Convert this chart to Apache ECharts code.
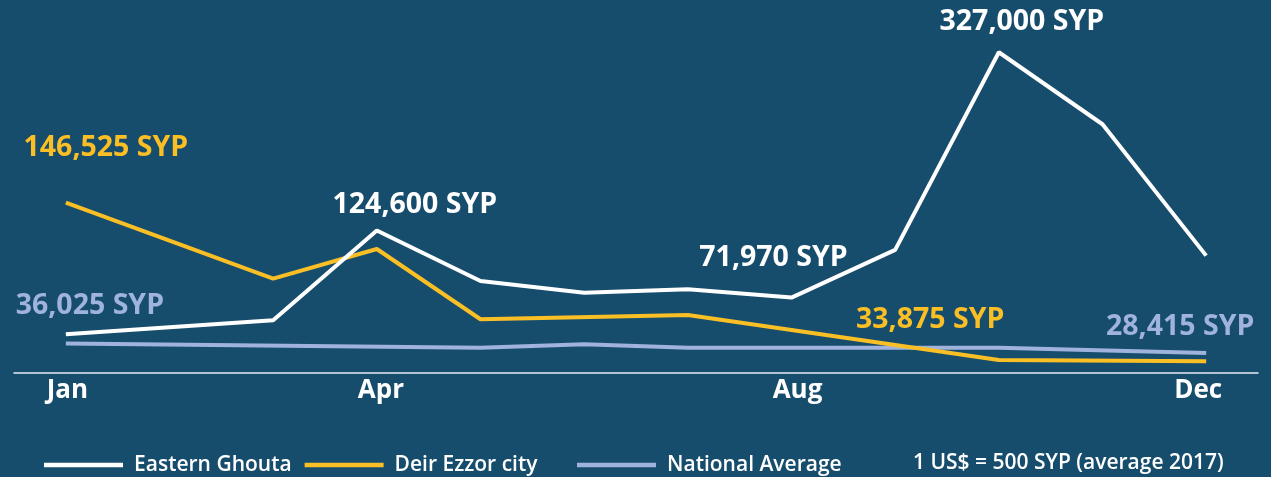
<!DOCTYPE html>
<html>
<head>
<meta charset="utf-8">
<script src="https://cdn.jsdelivr.net/npm/echarts@6/dist/echarts.min.js"></script>
<style>
  html, body { margin: 0; padding: 0; background: #174d6c; }
  #chart { width: 1271px; height: 477px; }
</style>
</head>
<body>
<div id="chart"></div>
<script>
// monthly prices, SYP (null = no visible vertex)
const months = ["Jan", "Feb", "Mar", "Apr", "May", "Jun", "Jul", "Aug", "Sep", "Oct", "Nov", "Dec"];
const shownMonths = ["Jan", "Apr", "Aug", "Dec"];
const easternGhouta = [43200, null, 54200, 124600, 85000, 75800, 78500, 71970, 109400, 264500, 208000, 104900];
const deirEzzor = [146525, null, 86800, 110100, 55000, null, 58300, null, null, 23000, null, 22000];
const nationalAvg = [36025, null, null, null, 32700, 35300, 32700, 32700, 32700, 32700, null, 28415];

// callouts: which series, which month, what text
const calloutSeries = [0, 1, 0, 0, 2, 1, 2];
const calloutIndex = [9, 0, 3, 7, 0, 11, 11];
const calloutText = ["327,000 SYP", "146,525 SYP", "124,600 SYP", "71,970 SYP", "36,025 SYP", "33,875 SYP", "28,415 SYP"];
const calloutOffset = [[23, -30], [40, -55], [38, -26], [-18, -40], [24, -38], [-276, -41], [-26, -26]];

const seriesNames = ["Eastern Ghouta", "Deir Ezzor city", "National Average"];
const lineColors = ["#ffffff", "#fbbf26", "#9fb3dc"];
const seriesValues = [easternGhouta, deirEzzor, nationalAvg];

let buildData = (s) => {
  return seriesValues[s].map((v, i) => {
    let c = calloutSeries.findIndex((cs, k) => cs === s && calloutIndex[k] === i);
    if (c < 0) return v;
    return {
      value: v,
      label: {
        show: true,
        position: "inside",
        offset: calloutOffset[c],
        formatter: calloutText[c],
        color: lineColors[s],
        fontFamily: "Open Sans",
        fontWeight: "bold",
        fontSize: 28.5,
      },
    };
  });
};

let legendText = {
  color: "#ffffff",
  fontFamily: "Open Sans",
  fontWeight: 600,
  fontSize: 21,
  lineHeight: 22,
  padding: [0, 0, 0, 6],
};

// month labels are nudged a little, like in the original artwork
let monthFont = { color: "#ffffff", fontFamily: "Open Sans", fontWeight: "bold", fontSize: 26 };
let monthRich = {
  jan: Object.assign({ padding: [0, 0, 0, 3] }, monthFont),
  apr: Object.assign({ padding: [0, 0, 0, 8] }, monthFont),
  aug: Object.assign({ padding: [0, 0, 0, 12] }, monthFont),
  dec: Object.assign({ padding: [0, 16, 0, 0] }, monthFont),
};

let myChart = echarts.init(document.getElementById("chart"));
myChart.setOption({
  backgroundColor: "#174d6c",
  animation: false,
  grid: {
    left: 14,
    right: 13,
    top: 7,
    bottom: 104,
  },
  legend: [
    {
      left: 44,
      top: 454,
      padding: 0,
      icon: "rect",
      itemWidth: 79,
      itemHeight: 4.5,
      itemGap: 13,
      data: seriesNames.slice(0, 2),
      textStyle: legendText,
    },
    {
      left: 577,
      top: 454,
      padding: 0,
      icon: "rect",
      itemWidth: 79,
      itemHeight: 4.5,
      data: seriesNames.slice(2),
      textStyle: legendText,
    },
  ],
  graphic: [
    {
      type: "text",
      left: 913,
      top: 453,
      style: {
        text: "1 US$ = 500 SYP (average 2017)",
        fill: "#ffffff",
        font: "600 21px 'Open Sans'",
      },
    },
  ],
  xAxis: {
    type: "category",
    data: months,
    boundaryGap: true,
    axisLine: { lineStyle: { color: "#e6ecf1", width: 1.5 } },
    axisTick: { interval: 0, length: 6, lineStyle: { color: "#d5dee6" } },
    axisLabel: {
      interval: 0,
      margin: 5,
      color: "#ffffff",
      fontFamily: "Open Sans",
      fontWeight: "bold",
      fontSize: 26,
      rich: monthRich,
      formatter: (v) => (shownMonths.includes(v) ? "{" + v.toLowerCase() + "|" + v + "}" : ""),
    },
  },
  yAxis: {
    type: "value",
    min: 12800,
    max: 300000,
    show: false,
    splitLine: { show: false },
  },
  series: seriesNames.map((name, s) => ({
    name: name,
    type: "line",
    data: buildData(s),
    connectNulls: true,
    showSymbol: true,
    symbol: "circle",
    symbolSize: 0,
    z: 3 - s,
    lineStyle: { color: lineColors[s], width: 4 },
    itemStyle: { color: lineColors[s] },
    emphasis: { disabled: true },
  })),
});
</script>
</body>
</html>
